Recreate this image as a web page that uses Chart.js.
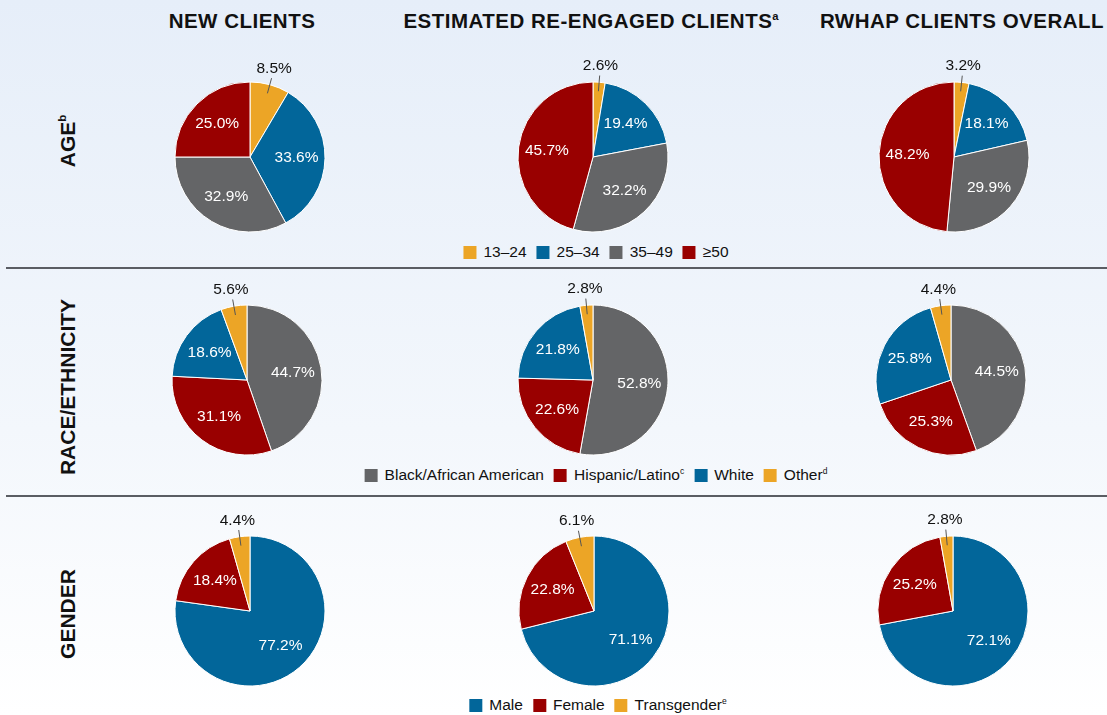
<!DOCTYPE html>
<html>
<head>
<meta charset="utf-8">
<script src="https://cdn.jsdelivr.net/npm/chart.js@4"></script>
<style>
  html, body { margin: 0; padding: 0; }
  body {
    width: 1107px; height: 715px; position: relative; overflow: hidden;
    background: linear-gradient(to bottom, #e6eef9 0%, #f3f7fc 60%, #ffffff 100%);
    font-family: "Liberation Sans", Arial, sans-serif; color: #111;
  }
  .col-head {
    position: absolute; top: 9px; font-weight: bold; font-size: 20.5px;
    letter-spacing: 0.5px; white-space: nowrap; transform: translateX(-50%);
  }
  .row-head {
    position: absolute; font-weight: bold; font-size: 21px; white-space: nowrap;
    transform: translate(-50%, -50%) rotate(-90deg);
  }
  sup { font-size: 0.55em; vertical-align: baseline; position: relative; top: -0.75em; letter-spacing: 0; line-height: 0; }
  .legend {
    position: absolute; font-size: 15.5px; line-height: 18px; white-space: nowrap; transform: translateX(-50%);
    display: flex; align-items: center;
  }
  .legend .item { display: flex; align-items: center; margin: 0 5px; }
  .legend .box { width: 13px; height: 13px; margin-right: 7px; }
  .rule { position: absolute; left: 6px; right: 0; height: 2px; background: #5a5d63; }
  canvas.pie { position: absolute; }
</style>
</head>
<body>
<div class="col-head" style="left:242px;">NEW CLIENTS</div>
<div class="col-head" style="left:591px;">ESTIMATED RE-ENGAGED CLIENTS<sup>a</sup></div>
<div class="col-head" style="left:962px;">RWHAP CLIENTS OVERALL</div>

<div class="row-head" style="left:68px; top:141px;">AGE<sup>b</sup></div>
<div class="row-head" style="left:68px; top:387px;">RACE/ETHNICITY</div>
<div class="row-head" style="left:68px; top:614px;">GENDER</div>

<div class="rule" style="top:267px;"></div>
<div class="rule" style="top:495px;"></div>

<div class="legend" id="legend-age" style="left:596px; top:243px;"></div>
<div class="legend" id="legend-race" style="left:596px; top:466px;"></div>
<div class="legend" id="legend-gender" style="left:598px; top:696px;"></div>

<script>
// categories
const ageLabels = ['13–24', '25–34', '35–49', '≥50'];
const raceLabels = ['Black/African American', 'Hispanic/Latino', 'White', 'Other'];
const raceNotes = ['', 'c', '', 'd'];
const genderLabels = ['Male', 'Female', 'Transgender'];
const genderNotes = ['', '', 'e'];

// percentages, clockwise from 12 o'clock
const ageNew = [8.5, 33.6, 32.9, 25.0];
const ageReengaged = [2.6, 19.4, 32.2, 45.7];
const ageOverall = [3.2, 18.1, 29.9, 48.2];

const raceNew = [44.7, 31.1, 18.6, 5.6];
const raceReengaged = [52.8, 22.6, 21.8, 2.8];
const raceOverall = [44.5, 25.3, 25.8, 4.4];

const genderNew = [77.2, 18.4, 4.4];
const genderReengaged = [71.1, 22.8, 6.1];
const genderOverall = [72.1, 25.2, 2.8];

const ORANGE = '#eca526', BLUE = '#02669a', GRAY = '#646567', RED = '#990000';
const ageColors = [ORANGE, BLUE, GRAY, RED];
const raceColors = [GRAY, RED, BLUE, ORANGE];
const genderColors = [BLUE, RED, ORANGE];

function buildLegend(id, labels, colors, notes) {
  const el = document.getElementById(id);
  labels.forEach(function (lab, i) {
    const item = document.createElement('span');
    item.className = 'item';
    const box = document.createElement('span');
    box.className = 'box';
    box.style.background = colors[i];
    const txt = document.createElement('span');
    txt.textContent = lab;
    item.appendChild(box);
    item.appendChild(txt);
    if (notes && notes[i]) {
      const s = document.createElement('sup');
      s.textContent = notes[i];
      txt.appendChild(s);
    }
    el.appendChild(item);
  });
}
buildLegend('legend-age', ageLabels, ageColors);
buildLegend('legend-race', raceLabels, raceColors, raceNotes);
buildLegend('legend-gender', genderLabels, genderColors, genderNotes);

// draws the percentage inside each slice, or outside with a leader line when small
const sliceLabels = {
  id: 'sliceLabels',
  afterDatasetsDraw(chart) {
    const ctx = chart.ctx;
    const ds = chart.data.datasets[0];
    const arcs = chart.getDatasetMeta(0).data;
    ctx.save();
    ctx.font = '15.5px "Liberation Sans", Arial, sans-serif';
    ctx.textAlign = 'center';
    ctx.textBaseline = 'middle';
    arcs.forEach(function (arc, i) {
      const v = ds.data[i];
      const mid = (arc.startAngle + arc.endAngle) / 2;
      const r = arc.outerRadius;
      const txt = v.toFixed(1) + '%';
      if (v < 10) {
        ctx.strokeStyle = '#555';
        ctx.lineWidth = 1;
        ctx.beginPath();
        ctx.moveTo(arc.x + Math.cos(mid) * r * 0.88, arc.y + Math.sin(mid) * r * 0.88);
        ctx.lineTo(arc.x + Math.cos(mid) * r * 1.09, arc.y + Math.sin(mid) * r * 1.09);
        ctx.stroke();
        ctx.fillStyle = '#111';
        ctx.fillText(txt, arc.x + Math.cos(mid) * r * 1.22, arc.y + Math.sin(mid) * r * 1.22);
      } else {
        ctx.fillStyle = '#ffffff';
        ctx.fillText(txt, arc.x + Math.cos(mid) * r * 0.62, arc.y + Math.sin(mid) * r * 0.62);
      }
    });
    ctx.restore();
  }
};

function makePie(cx, cy, labels, values, colors) {
  const c = document.createElement('canvas');
  c.className = 'pie';
  c.width = 300; c.height = 220;
  c.style.width = '300px'; c.style.height = '220px';
  c.style.left = (cx - 150) + 'px';
  c.style.top = (cy - 110) + 'px';
  document.body.appendChild(c);
  return new Chart(c, {
    type: 'pie',
    data: {
      labels: labels,
      datasets: [{
        data: values,
        backgroundColor: colors,
        borderColor: '#ffffff',
        borderWidth: 1,
        radius: 75
      }]
    },
    options: {
      responsive: false,
      animation: false,
      plugins: { legend: { display: false }, tooltip: { enabled: false } }
    },
    plugins: [sliceLabels]
  });
}

makePie(250, 157, ageLabels, ageNew, ageColors);
makePie(593, 157, ageLabels, ageReengaged, ageColors);
makePie(954, 157, ageLabels, ageOverall, ageColors);

makePie(247, 380, raceLabels, raceNew, raceColors);
makePie(593, 380, raceLabels, raceReengaged, raceColors);
makePie(951, 380, raceLabels, raceOverall, raceColors);

makePie(250, 611, genderLabels, genderNew, genderColors);
makePie(594, 611, genderLabels, genderReengaged, genderColors);
makePie(953, 611, genderLabels, genderOverall, genderColors);
</script>
</body>
</html>
